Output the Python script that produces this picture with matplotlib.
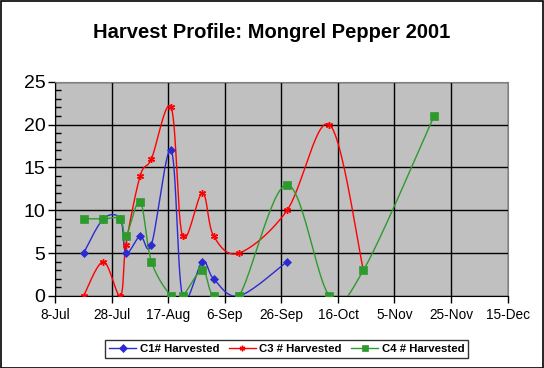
import datetime as dt
import matplotlib
matplotlib.use('Agg')
import matplotlib.pyplot as plt
import matplotlib.dates as mdates
import numpy as np
from matplotlib.patches import Rectangle

# harvest dates (2001) and counts
dates_c1 = ['2001-07-18', '2001-07-25', '2001-07-31', '2001-08-02', '2001-08-07', '2001-08-11',
            '2001-08-18', '2001-08-22', '2001-08-29', '2001-09-02', '2001-09-11', '2001-09-28']
c1 = [5, 9, 9, 5, 7, 6, 17, 0, 4, 2, 0, 4]

dates_c3 = ['2001-07-18', '2001-07-25', '2001-07-31', '2001-08-02', '2001-08-07', '2001-08-11',
            '2001-08-18', '2001-08-22', '2001-08-29', '2001-09-02', '2001-09-11', '2001-09-28',
            '2001-10-13', '2001-10-25']
c3 = [0, 4, 0, 6, 14, 16, 22, 7, 12, 7, 5, 10, 20, 3]

dates_c4 = ['2001-07-18', '2001-07-25', '2001-07-31', '2001-08-02', '2001-08-07', '2001-08-11',
            '2001-08-18', '2001-08-22', '2001-08-29', '2001-09-02', '2001-09-11', '2001-09-28',
            '2001-10-13', '2001-10-25', '2001-11-19']
c4 = [9, 9, 9, 7, 11, 4, 0, 0, 3, 0, 0, 13, 0, 3, 21]

series = [
    ('C1# Harvested', dates_c1, c1, '#2B2BD0', 'D', 4.5, 0.5),
    ('C3 # Harvested', dates_c3, c3, '#FF0000', (6, 2, 0), 5, 1.0),
    ('C4 # Harvested', dates_c4, c4, '#2E9A2E', 's', 5.5, 0.5),
]


def smooth(x, y, n=30):
    # Excel-style smoothed line (Catmull-Rom bezier)
    x = np.asarray(x, float)
    y = np.asarray(y, float)
    px, py = [x[0]], [y[0]]
    t = np.linspace(0, 1, n)[1:]
    for i in range(len(x) - 1):
        x0, y0 = (x[i - 1], y[i - 1]) if i > 0 else (x[i], y[i])
        x3, y3 = (x[i + 2], y[i + 2]) if i + 2 < len(x) else (x[i + 1], y[i + 1])
        x1, y1, x2, y2 = x[i], y[i], x[i + 1], y[i + 1]
        cx1, cy1 = x1 + (x2 - x0) / 6, y1 + (y2 - y0) / 6
        cx2, cy2 = x2 - (x3 - x1) / 6, y2 - (y3 - y1) / 6
        b0, b1, b2, b3 = (1 - t) ** 3, 3 * t * (1 - t) ** 2, 3 * t ** 2 * (1 - t), t ** 3
        px.extend(b0 * x1 + b1 * cx1 + b2 * cx2 + b3 * x2)
        py.extend(b0 * y1 + b1 * cy1 + b2 * cy2 + b3 * y2)
    return np.array(px), np.array(py)


plt.rcParams['font.family'] = ['Liberation Sans', 'DejaVu Sans']

fig = plt.figure(figsize=(5.44, 3.68), dpi=100)
fig.patch.set_facecolor('white')
fig.patches.append(Rectangle((0.001, 0.001), 0.997, 0.996, transform=fig.transFigure,
                             fill=False, edgecolor='black', linewidth=1.2))

ax = fig.add_axes([0.1017, 0.1957, 0.8313, 0.5823])
ax.set_facecolor('#C0C0C0')

handles = []
for label, ds, vals, color, marker, ms, mew in series:
    xs = mdates.date2num([dt.datetime.strptime(d, '%Y-%m-%d') for d in ds])
    sx, sy = smooth(xs, vals)
    ax.plot(sx, sy, color=color, linewidth=1, zorder=3)
    ax.plot(xs, vals, linestyle='none', marker=marker, color=color, markersize=ms,
            markeredgewidth=mew, zorder=4)
    h, = ax.plot([], [], color=color, linewidth=1, marker=marker, markersize=ms * 0.8,
                 markeredgewidth=mew)
    handles.append((h, label))

x0 = mdates.date2num(dt.datetime(2001, 7, 8))
x1 = mdates.date2num(dt.datetime(2001, 12, 15))
ax.set_xlim(x0, x1)
ax.set_ylim(0, 25)
ax.set_xticks(np.arange(x0, x1 + 1, 20))
ax.xaxis.set_major_formatter(mdates.DateFormatter('%-d-%b'))
ax.set_yticks(range(0, 26, 5))
ax.set_yticks(range(0, 26, 1), minor=True)
ax.tick_params(axis='y', which='major', labelsize=14, direction='out', length=5, width=1, pad=2)
ax.tick_params(axis='y', which='minor', direction='in', length=4, width=1)
ax.tick_params(axis='x', which='major', labelsize=9.8, direction='out', length=5, width=1)
ax.grid(True, which='major', color='black', linewidth=1, zorder=1)
ax.set_axisbelow(True)
for side in ['top', 'right']:
    ax.spines[side].set_color('#808080')
for side in ['left', 'bottom']:
    ax.spines[side].set_color('black')

fig.text(0.5, 0.912, 'Harvest Profile: Mongrel Pepper 2001', ha='center', va='center',
         fontsize=14.5, fontweight='bold')

leg = fig.legend([h for h, _ in handles], [l for _, l in handles], loc='lower center',
                 bbox_to_anchor=(0.527, 0.026), ncol=3, frameon=True, fancybox=False,
                 prop={'size': 8.2, 'weight': 'bold'}, handlelength=2.4, columnspacing=0.8,
                 handletextpad=0.3, borderpad=0.35, borderaxespad=0)
leg.get_frame().set_edgecolor('black')
leg.get_frame().set_linewidth(1)

fig.savefig('out.png', dpi=100, facecolor='white')
